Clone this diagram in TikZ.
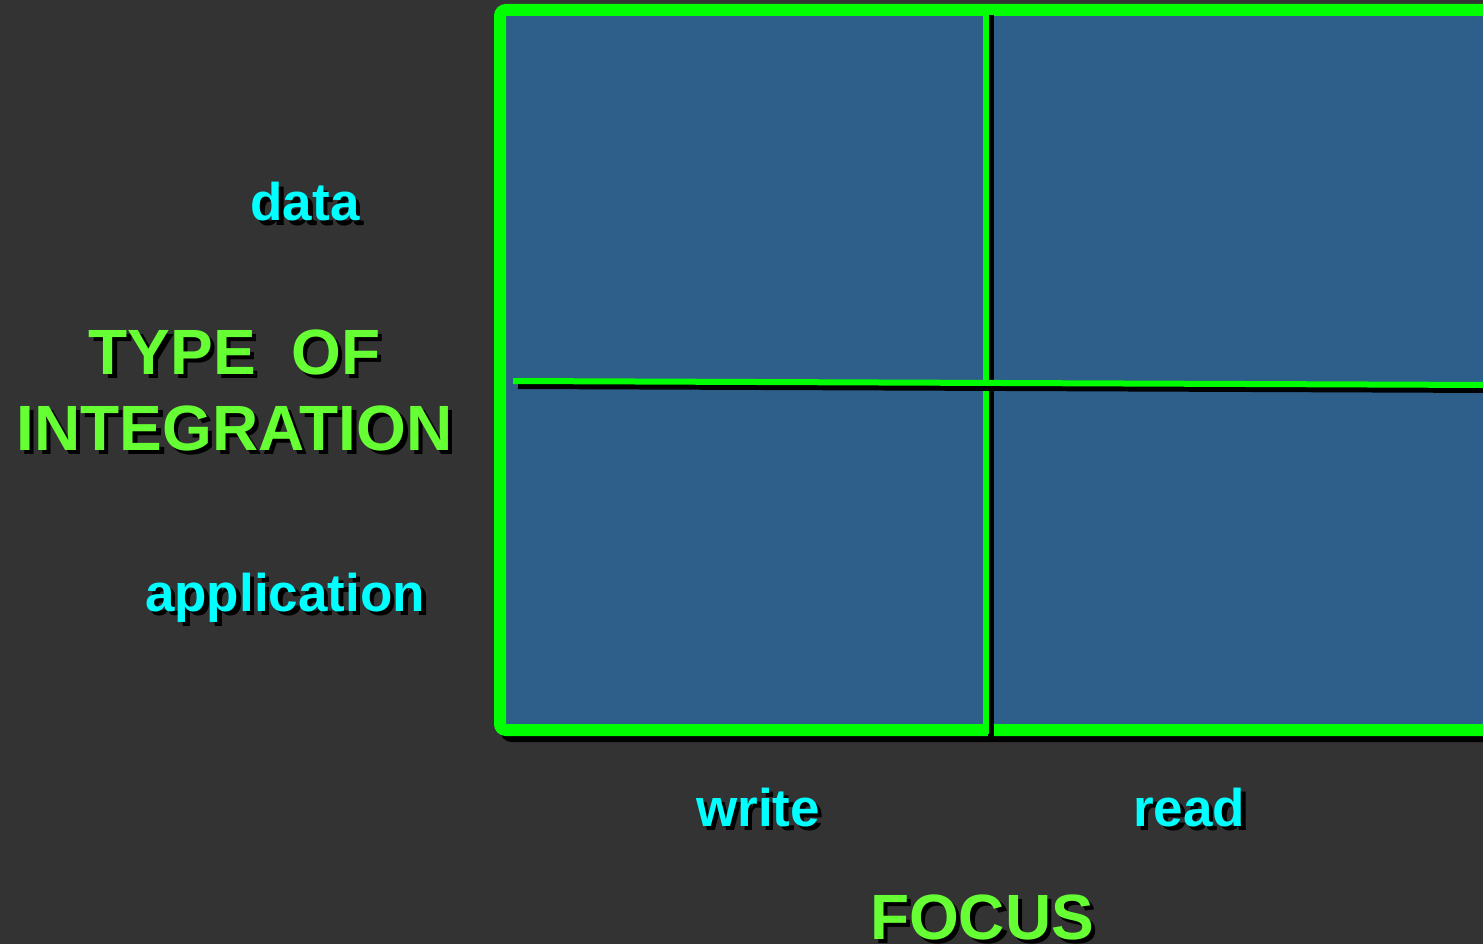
\documentclass[tikz,border=0pt]{standalone}
\usepackage{fontspec}
\setmainfont{Liberation Sans}
\definecolor{bg}{HTML}{333333}
\definecolor{cellblue}{RGB}{46,94,138}
\definecolor{bordergreen}{HTML}{00FF00}
\definecolor{labelgreen}{HTML}{66FF33}
\definecolor{labelcyan}{HTML}{00FFFF}
\tikzset{
  lbl/.style={anchor=base, inner sep=0pt, font=\bfseries\fontsize{53}{60}\selectfont},
  biglbl/.style={anchor=base, inner sep=0pt, font=\bfseries\fontsize{64}{72}\selectfont},
  sh/.style={text=black},
  frame/.style={draw=bordergreen, line width=12pt, rounded corners=6pt},
  frameshadow/.style={draw=black, line width=12pt, rounded corners=6pt},
  divider/.style={draw=bordergreen, line width=6pt},
  dividershadow/.style={draw=black, line width=6pt}
}
\newcommand{\shlabel}[5]{%
  \node[#4, sh] (#1s) at ($(#2)+(4.5,4.5)$) {#5};
  \node[#4, text=#3] (#1) at (#2) {#5};
}
\usetikzlibrary{calc}
\begin{document}
\begin{tikzpicture}[x=1pt, y=-1pt]
\fill[bg] (0,0) rectangle (1483,944);
\useasboundingbox (0,0) rectangle (1483,944);
% frame
\coordinate (tl) at (500,10);
\coordinate (br) at (1489,730);
\path[frameshadow] ($(tl)+(6,6)$) rectangle ($(br)+(6,6)$);
\path[frame, fill=cellblue] (tl) rectangle (br);
% vertical divider
\coordinate (vt) at (986,10);
\coordinate (vb) at (986,734);
\path[dividershadow] ($(vt)+(5,5)$) -- ($(vb)+(5,5)$);
\path[divider] (vt) -- (vb);
% horizontal divider
\coordinate (hl) at (513,381);
\coordinate (hr) at (1490,385);
\path[dividershadow] ($(hl)+(5,5)$) -- ($(hr)+(5,5)$);
\path[divider] (hl) -- (hr);
% labels
\shlabel{data}{305,221}{labelcyan}{lbl}{data}
\shlabel{application}{285,611}{labelcyan}{lbl}{application}
\shlabel{write}{758,826}{labelcyan}{lbl}{write}
\shlabel{read}{1189,826}{labelcyan}{lbl}{read}
\shlabel{typeof}{234.5,374}{labelgreen}{biglbl}{TYPE\ \ OF}
\shlabel{integration}{234.5,450}{labelgreen}{biglbl}{INTEGRATION}
\shlabel{focus}{982,939}{labelgreen}{biglbl}{FOCUS}
\end{tikzpicture}
\end{document}
